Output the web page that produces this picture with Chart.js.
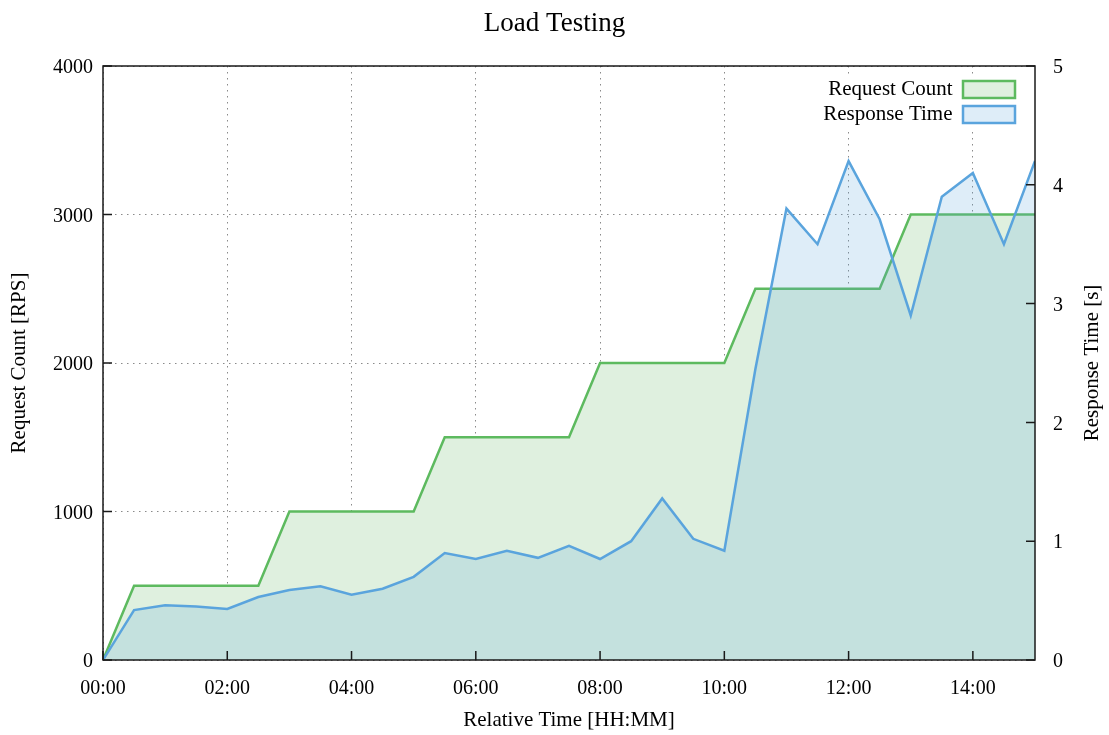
<!DOCTYPE html>
<html>
<head>
<meta charset="utf-8">
<title>Load Testing</title>
<script src="https://cdn.jsdelivr.net/npm/chart.js@4.4.1/dist/chart.umd.min.js"></script>
<style>
  html, body { margin: 0; padding: 0; background: #fff; }
  #wrap { width: 1109px; height: 735px; position: relative; }
</style>
</head>
<body>
<div id="wrap"><canvas id="loadChart"></canvas></div>
<script>
// Sample times, every 30 minutes from the start of the test
const times = [
    '00:00', '00:30', '01:00', '01:30', '02:00', '02:30', '03:00', '03:30',
    '04:00', '04:30', '05:00', '05:30', '06:00', '06:30', '07:00', '07:30',
    '08:00', '08:30', '09:00', '09:30', '10:00', '10:30', '11:00', '11:30',
    '12:00', '12:30', '13:00', '13:30', '14:00', '14:30', '15:00'
];

// Request count [RPS]
const requestCount = [
    0, 500, 500, 500, 500, 500, 1000, 1000,
    1000, 1000, 1000, 1500, 1500, 1500, 1500, 1500,
    2000, 2000, 2000, 2000, 2000, 2500, 2500, 2500,
    2500, 2500, 3000, 3000, 3000, 3000, 3000
];

// Response time [s]
const responseTime = [
    0, 0.42, 0.46, 0.45, 0.43, 0.53, 0.59, 0.62,
    0.55, 0.60, 0.70, 0.90, 0.85, 0.92, 0.86, 0.96,
    0.85, 1.00, 1.36, 1.02, 0.92, 2.45, 3.80, 3.50,
    4.20, 3.71, 2.90, 3.90, 4.10, 3.50, 4.20
];

// Tick labels
const timeTicks = ['00:00', '02:00', '04:00', '06:00', '08:00', '10:00', '12:00', '14:00'];
const requestTicks = [0, 1000, 2000, 3000, 4000];
const responseTicks = [0, 1, 2, 3, 4, 5];

// 'HH:MM' -> hours
function toHours(t) {
    const parts = t.split(':');
    return Number(parts[0]) + Number(parts[1]) / 60;
}

function toPoints(values) {
    return values.map((v, i) => ({ x: toHours(times[i]), y: v }));
}

const FONT = '"Liberation Serif", "Times New Roman", serif';
Chart.defaults.font.family = FONT;
Chart.defaults.color = '#000';

// Box around the plot, inward ticks, right axis title and an opaque legend
const framePlugin = {
    id: 'frame',
    afterLayout(chart) {
        // gnuplot-like key placement inside the top right corner
        const lg = chart.legend;
        const a = chart.chartArea;
        lg.top = a.top + 9;
        lg.right = a.right - 16;
        lg.left = a.left;
        lg.width = lg.right - lg.left;
    },
    afterDatasetsDraw(chart) {
        const { ctx, chartArea: a, scales } = chart;
        ctx.save();

        // white key background, then the key again on top
        const boxes = chart.legend.legendHitBoxes;
        if (boxes && boxes.length) {
            let l = Infinity, t = Infinity, r = -Infinity, b = -Infinity;
            boxes.forEach(h => {
                l = Math.min(l, h.left); t = Math.min(t, h.top);
                r = Math.max(r, h.left + h.width); b = Math.max(b, h.top + h.height);
            });
            ctx.fillStyle = '#fff';
            ctx.fillRect(l - 8, t - 4, r - l + 16, b - t + 8);
            chart.legend.draw();
        }

        ctx.strokeStyle = '#1a1a1a';
        ctx.lineWidth = 1.5;
        ctx.beginPath();
        scales.y.ticks.forEach(tk => {
            const p = scales.y.getPixelForValue(tk.value);
            ctx.moveTo(a.left, p); ctx.lineTo(a.left + 9, p);
        });
        scales.y2.ticks.forEach(tk => {
            const p = scales.y2.getPixelForValue(tk.value);
            ctx.moveTo(a.right, p); ctx.lineTo(a.right - 9, p);
        });
        scales.x.ticks.forEach(tk => {
            const p = scales.x.getPixelForValue(tk.value);
            ctx.moveTo(p, a.bottom); ctx.lineTo(p, a.bottom - 9);
        });
        ctx.stroke();
        ctx.strokeRect(a.left, a.top, a.width, a.height);

        // right axis title reads bottom to top, like the left one
        ctx.fillStyle = '#000';
        ctx.font = '21px ' + FONT;
        ctx.textAlign = 'center';
        ctx.textBaseline = 'middle';
        ctx.translate(1092, (a.top + a.bottom) / 2);
        ctx.rotate(-Math.PI / 2);
        ctx.fillText('Response Time [s]', 0, 0);
        ctx.restore();
    }
};

const ctx = document.getElementById('loadChart').getContext('2d');

new Chart(ctx, {
    type: 'line',
    data: {
        datasets: [{
            label: 'Request Count',
            data: toPoints(requestCount),
            yAxisID: 'y',
            borderColor: '#5dba5f',
            backgroundColor: 'rgb(223, 240, 223)',
            borderWidth: 2.5,
            fill: 'origin',
            pointRadius: 0,
            tension: 0,
            order: 2
        }, {
            label: 'Response Time',
            data: toPoints(responseTime),
            yAxisID: 'y2',
            borderColor: '#5aa4dd',
            backgroundColor: 'rgba(90, 164, 221, 0.2)',
            borderWidth: 2.5,
            fill: 'origin',
            pointRadius: 0,
            tension: 0,
            order: 1
        }]
    },
    options: {
        responsive: true,
        maintainAspectRatio: false,
        animation: false,
        layout: { padding: 0 },
        scales: {
            x: {
                type: 'linear',
                min: 0,
                max: 15,
                afterFit: s => { s.height = 75; },
                afterBuildTicks: s => { s.ticks = timeTicks.map(t => ({ value: toHours(t) })); },
                ticks: {
                    callback: (v, i) => timeTicks[i],
                    font: { size: 20 },
                    padding: 17,
                    maxRotation: 0
                },
                grid: { color: '#8a8a8a', lineWidth: 1, drawTicks: false },
                border: { display: false, dash: [1.5, 4.5] },
                title: {
                    display: true,
                    text: 'Relative Time [HH:MM]',
                    font: { size: 21 },
                    padding: { top: 0, bottom: 2 }
                }
            },
            y: {
                position: 'left',
                min: 0,
                max: 4000,
                afterFit: s => { s.width = 103; },
                afterBuildTicks: s => { s.ticks = requestTicks.map(v => ({ value: v })); },
                ticks: {
                    callback: v => String(v),
                    font: { size: 20 },
                    padding: 10,
                    labelOffset: 2
                },
                grid: { color: '#8a8a8a', lineWidth: 1, drawTicks: false },
                border: { display: false, dash: [1.5, 4.5] },
                title: {
                    display: true,
                    text: 'Request Count [RPS]',
                    font: { size: 21 },
                    padding: { top: 7, bottom: 0 }
                }
            },
            y2: {
                position: 'right',
                min: 0,
                max: 5,
                afterFit: s => { s.width = 74; },
                afterBuildTicks: s => { s.ticks = responseTicks.map(v => ({ value: v })); },
                ticks: {
                    callback: v => String(v),
                    font: { size: 20 },
                    padding: 18,
                    labelOffset: 2
                },
                grid: { drawOnChartArea: false, drawTicks: false },
                border: { display: false }
            }
        },
        plugins: {
            title: {
                display: true,
                text: 'Load Testing',
                font: { size: 27, weight: 'normal' },
                padding: { top: 8, bottom: 25.6 }
            },
            legend: {
                position: 'chartArea',
                align: 'start',
                rtl: true,
                labels: {
                    boxWidth: 52,
                    boxHeight: 17,
                    padding: 4,
                    font: { size: 21 },
                    sort: (a, b) => a.datasetIndex - b.datasetIndex
                }
            },
            tooltip: { enabled: false }
        }
    },
    plugins: [framePlugin]
});
</script>
</body>
</html>
